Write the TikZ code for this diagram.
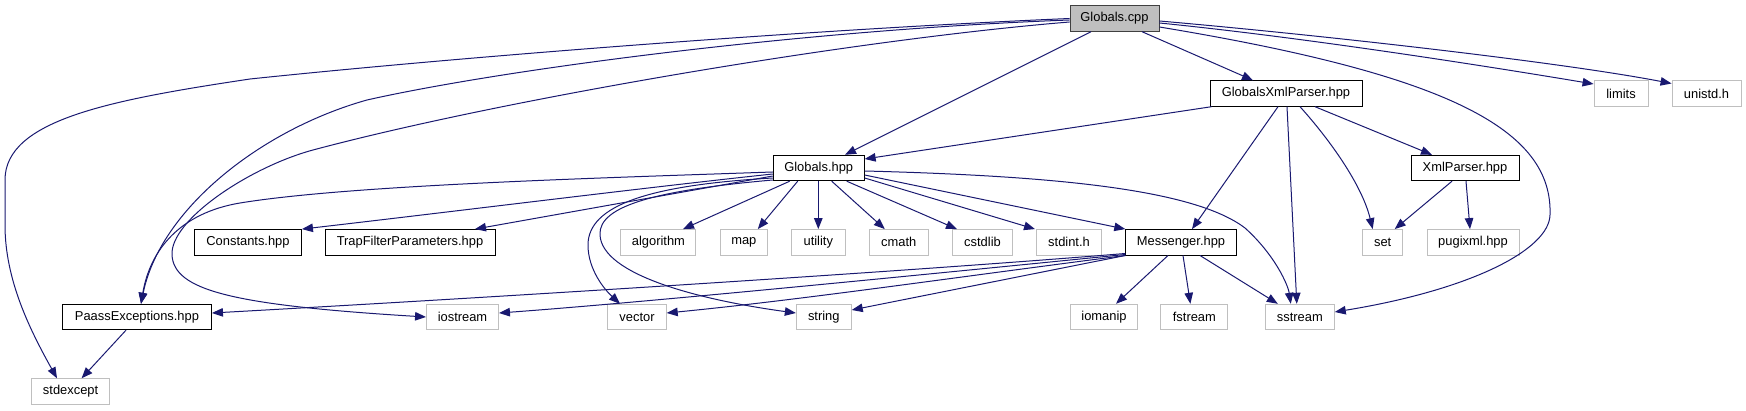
\documentclass[tikz,border=0pt]{standalone}
\usepackage{fontspec}
\setmainfont{Liberation Sans}
\usetikzlibrary{arrows.meta,calc}
\definecolor{edgeblue}{HTML}{191970}
\definecolor{extgrey}{HTML}{BFBFBF}
\definecolor{rootfill}{HTML}{BFBFBF}
\definecolor{rootdraw}{HTML}{404040}
\begin{document}
\begin{tikzpicture}[x=1pt,y=-1pt,
  box/.style={draw=black, line width=0.9pt, fill=white, minimum height=25.5pt, inner sep=0pt, font=\fontsize{12.9}{14}\selectfont},
  ext/.style={box, draw=extgrey},
  root/.style={box, draw=rootdraw, fill=rootfill},
  dep/.style={draw=edgeblue, line width=1pt, -{Triangle[length=11pt,width=8.5pt]}},
]
\useasboundingbox (0,0) rectangle (1746,411);
% row 1
\node[root, minimum width=89pt] (gcpp) at (1114.5,18.5) {Globals.cpp};
% row 2
\node[box, minimum width=152pt] (gxp) at (1286,93.5) {GlobalsXmlParser.hpp};
\node[ext, minimum width=54pt] (limits) at (1621,93.5) {limits};
\node[ext, minimum width=69pt] (unistd) at (1706.5,93.5) {unistd.h};
% row 3
\node[box, minimum width=91pt] (ghpp) at (818.7,168) {Globals.hpp};
\node[box, minimum width=108pt] (xmlp) at (1465,168) {XmlParser.hpp};
% row 4
\node[box, minimum width=107pt] (const) at (248,242.3) {Constants.hpp};
\node[box, minimum width=170pt] (trap) at (410,242.3) {TrapFilterParameters.hpp};
\node[ext, minimum width=75pt] (algo) at (658.4,242.3) {algorithm};
\node[ext, minimum width=47pt] (map) at (743.8,242.3) {map};
\node[ext, minimum width=53.5pt] (util) at (818.3,242.3) {utility};
\node[ext, minimum width=59pt] (cmath) at (898.8,242.3) {cmath};
\node[ext, minimum width=60pt] (cstdlib) at (982.5,242.3) {cstdlib};
\node[ext, minimum width=65pt] (stdint) at (1069,242.3) {stdint.h};
\node[box, minimum width=110.5pt] (msg) at (1181,242.3) {Messenger.hpp};
\node[ext, minimum width=40pt] (set) at (1382.7,242.3) {set};
\node[ext, minimum width=92pt] (pugi) at (1473,242.3) {pugixml.hpp};
% row 5
\node[box, minimum width=149pt] (paass) at (137,317) {PaassExceptions.hpp};
\node[ext, minimum width=72pt] (iostream) at (462.5,317) {iostream};
\node[ext, minimum width=58.5pt] (vector) at (637,317) {vector};
\node[ext, minimum width=55pt] (string) at (823.8,317) {string};
\node[ext, minimum width=67pt] (iomanip) at (1104,317) {iomanip};
\node[ext, minimum width=67pt] (fstream) at (1194.4,317) {fstream};
\node[ext, minimum width=69pt] (sstream) at (1299.8,317) {sstream};
% row 6
\node[ext, minimum width=78.4pt] (stdexcept) at (70.6,391.5) {stdexcept};

% ---- edges from Globals.cpp
\draw[dep] ([xshift=-23.5pt]gcpp.south) -- ([xshift=26.3pt]ghpp.north);
\draw[dep] ([xshift=27.5pt]gcpp.south) -- ([xshift=-33pt]gxp.north);
\draw[dep] ([yshift=-4.5pt]gcpp.east) .. controls (1300,37) and (1480,65) .. ([yshift=9.5pt]limits.west);
\draw[dep] ([yshift=-2.5pt]gcpp.east) .. controls (1320,35) and (1560,62) .. ([yshift=10pt]unistd.west);
\draw[dep] ([yshift=-8.5pt]gcpp.east) .. controls (1450,75) and (1553,130) .. (1550,215)
   .. controls (1549,250) and (1470,290) .. ([yshift=5pt]sstream.east);
\draw[dep] (gcpp.west) .. controls (800,30) and (450,58) .. (250,79)
   .. controls (110,100) and (5,120) .. (5,180) -- (5,225)
   .. controls (5,280) and (30,330) .. ([xshift=-13.6pt]stdexcept.north);
\draw[dep] ([yshift=-1.5pt]gcpp.west) .. controls (800,30) and (500,70) .. (367,100)
   .. controls (260,130) and (160,210) .. ([xshift=4pt]paass.north);
\draw[dep] ([yshift=-3.5pt]gcpp.west) .. controls (850,40) and (500,100) .. (313,150)
   .. controls (250,167) and (170,220) .. (172,255)
   .. controls (174,290) and (230,305) .. (iostream.west);

% ---- edges from GlobalsXmlParser.hpp
\draw[dep] ([xshift=2pt]gxp.south west) -- ([yshift=9pt]ghpp.east);
\draw[dep] ([xshift=-8pt]gxp.south) -- ([xshift=11pt]msg.north);
\draw[dep] ([xshift=1pt]gxp.south) -- ([xshift=-3pt]sstream.north);
\draw[dep] ([xshift=14pt]gxp.south) .. controls (1330,140) and (1362,185) .. ([xshift=-10pt]set.north);
\draw[dep] ([xshift=29pt]gxp.south) -- ([xshift=-33pt]xmlp.north);

% ---- edges from XmlParser.hpp
\draw[dep] ([xshift=-13pt]xmlp.south) -- ([xshift=12pt]set.north);
\draw[dep] ([xshift=1pt]xmlp.south) -- ([xshift=-3pt]pugi.north);

% ---- edges from Globals.hpp
\draw[dep] ([yshift=-4pt]ghpp.west) .. controls (600,178) and (350,185) .. (240,203)
   .. controls (180,213) and (150,250) .. ([xshift=4pt]paass.north);
\draw[dep] ([yshift=-6pt]ghpp.west) .. controls (650,187) and (450,212) .. (const.north east);
\draw[dep] ([yshift=-8pt]ghpp.west) -- ([xshift=65pt]trap.north);
\draw[dep] ([yshift=-10pt]ghpp.west) .. controls (650,185) and (588,205) .. (588,245)
   .. controls (588,270) and (605,290) .. ([xshift=-17pt]vector.north);
\draw[dep] ([yshift=-12pt]ghpp.west) .. controls (660,190) and (598,205) .. (600,235)
   .. controls (602,275) and (700,300) .. ([yshift=4pt]string.west);
\draw[dep] ([xshift=-29pt]ghpp.south) -- ([xshift=24.6pt]algo.north);
\draw[dep] ([xshift=-21pt]ghpp.south) -- ([xshift=14pt]map.north);
\draw[dep] ([xshift=-0.4pt]ghpp.south) -- (util.north);
\draw[dep] ([xshift=13pt]ghpp.south) -- ([xshift=-14pt]cmath.north);
\draw[dep] ([xshift=28pt]ghpp.south) -- ([xshift=-25.5pt]cstdlib.north);
\draw[dep] ([yshift=-10pt]ghpp.east) -- ([xshift=-34pt]stdint.north);
\draw[dep] ([yshift=-7pt]ghpp.east) -- (msg.north west);
\draw[dep] ([yshift=-3pt]ghpp.east) .. controls (1060,176) and (1195,190) .. (1245,228)
   .. controls (1275,255) and (1288,285) .. ([xshift=-9pt]sstream.north);

% ---- edges from Messenger.hpp
\draw[dep] ([xshift=-13pt]msg.south) -- ([xshift=12pt]iomanip.north);
\draw[dep] ([xshift=2pt]msg.south) -- ([xshift=-4pt]fstream.north);
\draw[dep] ([xshift=19pt]msg.south) -- ([xshift=-22pt]sstream.north);
\draw[dep] (msg.south west) -- ([yshift=7pt]string.east);
\draw[dep] (msg.south west) .. controls (950,278) and (800,300) .. ([yshift=4pt]vector.east);
\draw[dep] ([yshift=1pt]msg.south west) .. controls (950,272) and (650,302) .. ([yshift=4pt]iostream.east);
\draw[dep] ([yshift=2pt]msg.south west) .. controls (900,272) and (500,297) .. ([yshift=4pt]paass.east);

% ---- edge from PaassExceptions.hpp
\draw[dep] ([xshift=-11pt]paass.south) -- ([xshift=11pt]stdexcept.north);
\end{tikzpicture}
\end{document}
